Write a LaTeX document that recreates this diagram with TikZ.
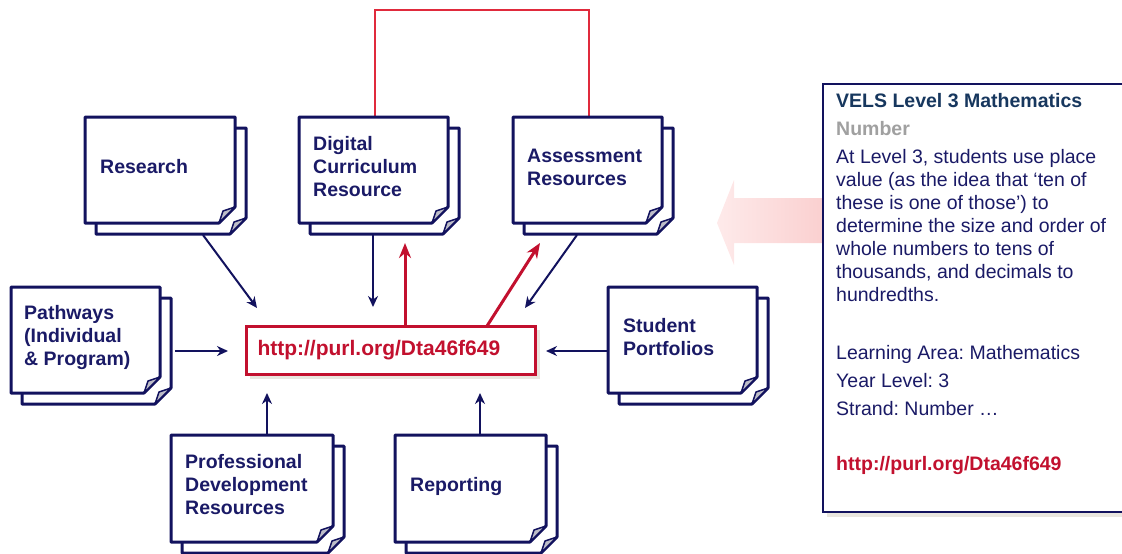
\documentclass[tikz,border=0pt]{standalone}
\usepackage{fontspec}
\setmainfont{Liberation Sans}
\usetikzlibrary{arrows.meta,calc}
\definecolor{navy}{HTML}{12125E}
\definecolor{textnavy}{HTML}{1A1A66}
\definecolor{titleblue}{HTML}{17375E}
\definecolor{urlred}{HTML}{C2102E}
\definecolor{linkred}{HTML}{E02A3C}
\definecolor{foldgray}{HTML}{BDBDC8}
\definecolor{shadowc}{HTML}{E9E6DF}
\definecolor{pinkL}{HTML}{FEEAEA}
\definecolor{pinkR}{HTML}{FAD0D0}
\definecolor{graytxt}{HTML}{A0A0A0}
\frenchspacing
\newcommand\docpage[1]{%
  \foreach \ofs in {11,0}{%
    \draw[pageline,fill=white]
      ([shift={(\ofs,\ofs)}]#1.north west) -- ([shift={(\ofs,\ofs)}]#1.north east)
      -- ([shift={(\ofs,\ofs-16)}]#1.south east) -- ([shift={(\ofs-16,\ofs)}]#1.south east)
      -- ([shift={(\ofs,\ofs)}]#1.south west) -- cycle;
    \draw[foldline,fill=foldgray]
      ([shift={(\ofs,\ofs-16)}]#1.south east) -- ([shift={(\ofs-12,\ofs-12)}]#1.south east)
      -- ([shift={(\ofs-16,\ofs)}]#1.south east) -- cycle;
  }}
\begin{document}
\frenchspacing
\begin{tikzpicture}[x=1pt,y=-1pt,
  pagebox/.style={inner sep=0pt, outer sep=0pt, anchor=north west, draw=none},
  pageline/.style={draw=navy, line width=3pt, line join=round},
  foldline/.style={draw=navy, line width=1.5pt, line join=round},
  lbl/.style={font=\fontsize{19.5}{23}\selectfont\bfseries, text=textnavy, inner sep=0pt, anchor=base west, align=left},
  navyarrow/.style={draw=navy, line width=2pt, -{Stealth[length=11pt,width=10pt]}},
  redarrow/.style={draw=urlred, line width=3pt, -{Stealth[length=15pt,width=12pt]}},
  redlink/.style={draw=linkred, line width=1.2pt},
  urlbox/.style={draw=urlred, line width=3pt, fill=white, anchor=north west, inner sep=0pt, outer sep=0pt,
    minimum width=289pt, minimum height=48pt, text=urlred, font=\fontsize{21}{25}\selectfont\bfseries},
  pbody/.style={font=\fontsize{19.5}{23.0}\selectfont\frenchspacing, text=textnavy, inner sep=0pt, anchor=base west, align=left},
  ptitle/.style={font=\fontsize{19.5}{23}\selectfont\bfseries, text=titleblue, inner sep=0pt, anchor=base west},
  pgray/.style={font=\fontsize{19.5}{23}\selectfont\bfseries, text=graytxt, inner sep=0pt, anchor=base west},
  purl/.style={font=\fontsize{19.5}{23}\selectfont\bfseries, text=urlred, inner sep=0pt, anchor=base west}
]
\useasboundingbox (0,0) rectangle (1122,554);
\clip (0,0) rectangle (1122,554);

% page placeholders (front sheets)
\node[pagebox, minimum width=150pt, minimum height=106pt] (research) at (85,117) {};
\node[pagebox, minimum width=149pt, minimum height=106pt] (digital) at (299,117) {};
\node[pagebox, minimum width=149pt, minimum height=106pt] (assessment) at (513,117) {};
\node[pagebox, minimum width=149pt, minimum height=106pt] (pathways) at (11,287) {};
\node[pagebox, minimum width=149pt, minimum height=106pt] (portfolios) at (608,287) {};
\node[pagebox, minimum width=162pt, minimum height=107pt] (profdev) at (171,435) {};
\node[pagebox, minimum width=151pt, minimum height=107pt] (reporting) at (395,435) {};

% red link between the two upper resources
\draw[redlink] ([shift={(1.5,0)}]digital.north) -- ++(0,-107) -| ([shift={(1.5,0)}]assessment.north);

% document icons
\docpage{research}
\docpage{digital}
\docpage{assessment}
\docpage{pathways}
\docpage{portfolios}
\docpage{profdev}
\docpage{reporting}

% labels (anchor = baseline of last line)
\node[lbl] (researchtxt) at (100,173) {Research};
\node[lbl] (digitaltxt) at (313,196) {Digital\\Curriculum\\Resource};
\node[lbl] (assessmenttxt) at (527,185) {Assessment\\Resources};
\node[lbl] (pathwaystxt) at (24,365) {Pathways\\(Individual\\\& Program)};
\node[lbl] (portfoliostxt) at (623,355.5) {Student\\Portfolios};
\node[lbl] (profdevtxt) at (185,514) {Professional\\Development\\Resources};
\node[lbl] (reportingtxt) at (410,491.5) {Reporting};

% central identifier
\fill[shadowc] (250,330) rectangle (540,379);
\node[urlbox] (url) at (246,326) {\makebox[266pt][l]{http://purl.org/Dta46f649}};

% connectors
\draw[navyarrow] ([shift={(-32,12)}]research.south east) -- ([shift={(11,-18)}]url.north west);
\draw[navyarrow] ([shift={(-0.5,12)}]digital.south) -- ([shift={(127,-19)}]url.north west);
\draw[redarrow] ([shift={(159,0)}]url.north west) -- ([shift={(-43,20)}]digital.south east);
\draw[redarrow] ([shift={(241,0)}]url.north west) -- ([shift={(27,20)}]assessment.south west);
\draw[navyarrow] ([shift={(64,12)}]assessment.south west) -- ([shift={(-10,-18)}]url.north east);
\draw[navyarrow] ([shift={(15,11)}]pathways.east) -- ([shift={(-18,1)}]url.west);
\draw[navyarrow] ([shift={(-1.5,11)}]portfolios.west) -- ([shift={(11,1)}]url.east);
\draw[navyarrow] ([shift={(96,0)}]profdev.north west) -- ([shift={(21,19)}]url.south west);
\draw[navyarrow] ([shift={(85,0)}]reporting.north west) -- ([shift={(234,19)}]url.south west);

% right panel
\shade[left color=pinkL, right color=pinkR] (717,223) -- (734,180) -- (734,198) -- (823,198) -- (823,243) -- (734,243) -- (734,265) -- cycle;
\fill[shadowc] (827,89) rectangle (1140,517);
\node[draw=navy, line width=1.5pt, fill=white, anchor=north west, inner sep=0pt, outer sep=0pt,
  minimum width=315pt, minimum height=428pt] (vels) at (823,84) {};
\node[ptitle] (velstitle) at (836,107) {VELS Level 3 Mathematics};
\node[pgray] (velsstrand) at (836,135) {Number};
\node[pbody] (velsbody) at (836,301.3) {At Level 3, students use place\\value (as the idea that ‘ten of\\these is one of those’) to\\determine the size and order of\\whole numbers to tens of\\thousands, and decimals to\\hundredths.};
\node[pbody] (velsarea) at (836,359) {Learning Area: Mathematics};
\node[pbody] (velsyear) at (836,387) {Year Level: 3};
\node[pbody] (velsstr) at (836,415) {Strand: Number …};
\node[purl] (velsurl) at (836,470) {http://purl.org/Dta46f649};
\end{tikzpicture}
\end{document}
